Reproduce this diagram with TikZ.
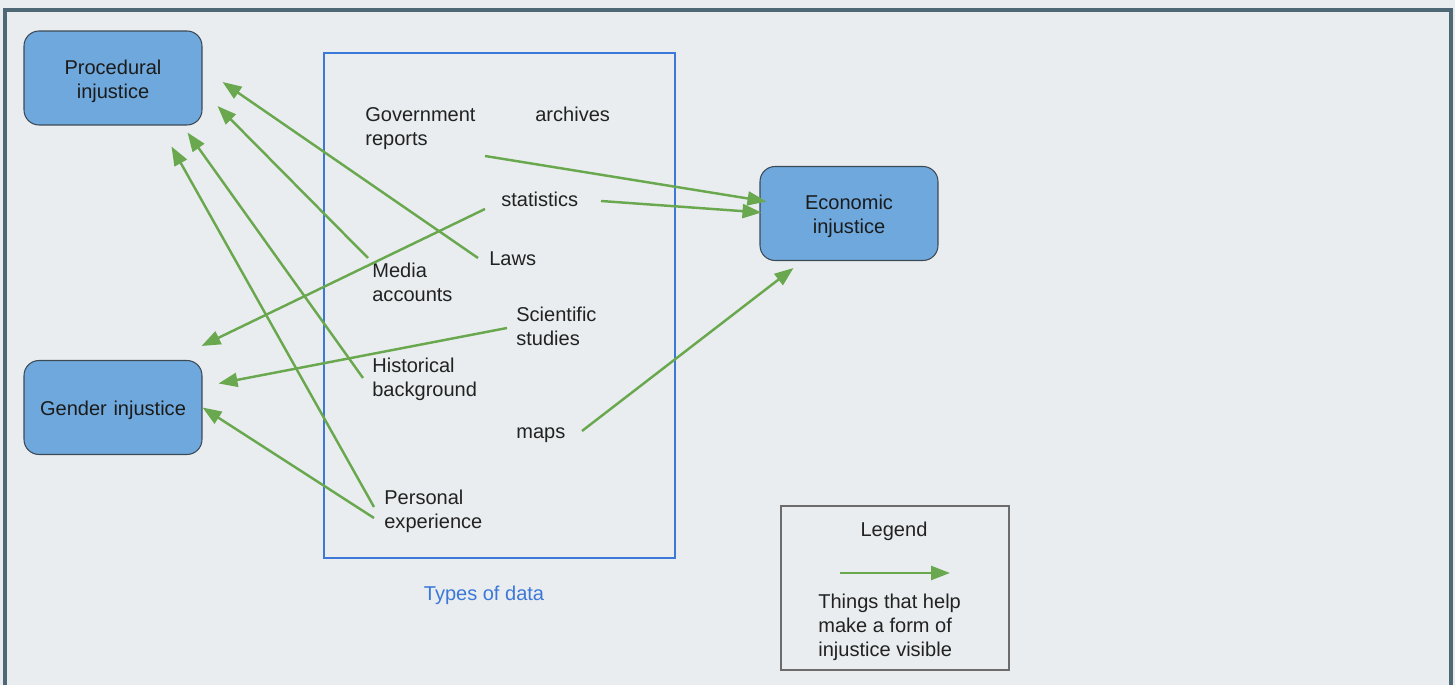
\documentclass[tikz,border=0pt]{standalone}
\usepackage{fontspec}
\setmainfont{Liberation Sans}
\usetikzlibrary{arrows.meta}

\definecolor{pagebg}{RGB}{233,237,239}
\definecolor{framecol}{RGB}{78,104,117}
\definecolor{boxfill}{RGB}{111,168,220}
\definecolor{boxline}{RGB}{60,74,86}
\definecolor{datablue}{RGB}{60,120,216}
\definecolor{helpgreen}{RGB}{106,168,79}
\definecolor{inkcol}{RGB}{34,34,34}

\tikzset{
  injustice/.style={draw=boxline, fill=boxfill, line width=0.6pt, rounded corners=0.3cm,
    minimum width=3.56cm, minimum height=1.88cm, text width=3.3cm, align=center,
    text=inkcol!80!black, execute at begin node=\rule{0pt}{11.8pt}},
  datum/.style={anchor=base west, align=left, text=inkcol, inner sep=0pt},
  help/.style={draw=helpgreen, line width=1.4pt, -{Triangle[length=0.38cm,width=0.28cm]}}
}

\begin{document}
\begin{tikzpicture}[x=0.02cm, y=-0.02cm, font=\fontsize{11.4pt}{13.7pt}\selectfont]
                \fill[pagebg] (0,0) rectangle (1455,685);
                \useasboundingbox (0,0) rectangle (1455,685);
                \draw[framecol, line width=2pt] (5,690) -- (5,10) -- (1451,10) -- (1451,690);

                \node[injustice] (proc) at (113,78) {Procedural\\injustice};
                \node[injustice] (gender) at (113,407.5) {Gender injustice};
                \node[injustice] (econ) at (849,213.5) {Economic\\injustice};

                \draw[datablue, line width=1.4pt] (324,53) rectangle (675,558);
                \node[text=datablue] (types) at (484,595) {Types of data};

                \node[datum] (gov) at (365,146) {Government\\reports};
                \node[datum] (arch) at (535,122) {archives};
                \node[datum] (stats) at (501,207) {statistics};
                \node[datum] (laws) at (489,266) {Laws};
                \node[datum] (media) at (372,302) {Media\\accounts};
                \node[datum] (sci) at (516,346) {Scientific\\studies};
                \node[datum] (hist) at (372,397) {Historical\\background};
                \node[datum] (maps) at (516,439) {maps};
                \node[datum] (pers) at (384,529) {Personal\\experience};

                \foreach \from/\dx/\dy/\to/\ex/\ey in {gov.base west/120/10/econ.west/7/-12,
                    stats.base west/100/-6/econ.west/2/-1,
                    stats.base west/-16/2/gender.north east/-1/-14,
                    laws.base west/-11/-8/proc.east/20/4,
                    media.base west/-4/-44/proc.east/15/28,
                    hist.base west/-9/-19/proc.south east/-15/7,
                    pers.base west/-10/-22/proc.south east/-31/21,
                    sci.base west/-9/-18/gender.east/16/-24,
                    pers.base west/-10/-11/gender.east/0/0,
                    maps.base west/66/-8/econ.south west/34/7}
                  \draw[help] ([shift={(\dx,\dy)}]\from) -- ([shift={(\ex,\ey)}]\to);

                % legend
                \draw[gray!85!black, line width=0.8pt] (781,506) rectangle (1009,670);
                \node[text=inkcol] (legend) at (894,531) {Legend};
                \coordinate (keystart) at (840,573);
                \coordinate (keyend) at (950,573);
                \draw[help] (keystart) -- (keyend);
                \node[datum] (keytext) at (818,657) {Things that help\\make a form of\\injustice visible};
            \end{tikzpicture}
\end{document}
